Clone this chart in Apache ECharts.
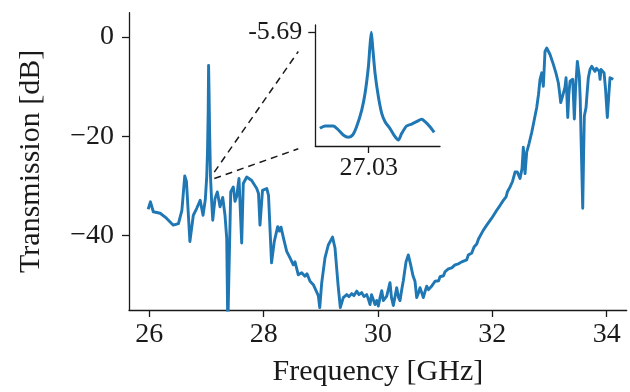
<!DOCTYPE html>
<html>
<head>
<meta charset="utf-8">
<script src="https://cdn.jsdelivr.net/npm/echarts@6/dist/echarts.min.js"></script>
<style>html,body{margin:0;padding:0;background:#fff}#c{width:630px;height:392px}</style>
</head>
<body>
<div id="c"></div>
<script>
// ---- main trace: frequency (GHz) and transmission (dB) ----
const mainFreq = [25.98,26.02,26.07,26.19,26.30,26.42,26.51,26.57,26.62,26.65,26.71,26.77,26.83,26.89,26.91,26.94,26.98,
27.005,27.018,27.03,27.037,27.045,27.055,27.07,27.09,27.11,27.15,27.19,27.237,27.284,27.324,27.354,27.373,27.39,27.424,27.469,27.499,27.529,27.569,27.592,27.616,27.644,27.704,27.791,27.879,27.91,27.936,27.98,28.054,28.085,28.138,28.186,28.246,28.277,28.304,28.347,28.403,28.461,28.519,28.549,28.606,28.666,28.723,28.759,28.811,28.869,28.898,28.956,28.981,29.016,29.073,29.131,29.205,29.248,29.301,29.341,29.393,29.453,29.493,29.54,29.58,29.628,29.668,29.715,29.755,29.803,29.834,29.861,29.887,29.919,29.948,29.978,30.006,30.036,30.066,30.093,30.123,30.153,30.18,30.21,30.236,30.268,30.298,30.327,30.36,30.385,30.415,30.443,30.49,30.53,30.572,30.612,30.647,30.677,30.71,30.735,30.765,30.793,30.822,30.852,30.884,30.91,30.945,30.968,30.998,31.027,31.06,31.085,31.115,31.146,31.172,31.202,31.23,31.26,31.29,31.32,31.347,31.377,31.408,31.464,31.496,31.552,31.58,31.64,31.68,31.727,31.758,31.814,31.843,31.902,31.93,31.989,32.019,32.077,32.105,32.136,32.192,32.24,32.266,32.31,32.353,32.397,32.437,32.484,32.519,32.542,32.572,32.601,32.641,32.689,32.729,32.776,32.808,32.834,32.864,32.892,32.921,32.951,32.979,33.009,33.067,33.114,33.154,33.175,33.196,33.219,33.242,33.271,33.289,33.305,33.319,33.338,33.359,33.406,33.42,33.434,33.455,33.487,33.521,33.537,33.551,33.581,33.595,33.609,33.639,33.656,33.679,33.709,33.738,33.766,33.796,33.822,33.854,33.87,33.884,33.901,33.913,33.954,33.98,34.011,34.032,34.058,34.088,34.116];
const mainDb = [-34.7,-33.2,-35.2,-35.5,-36.5,-37.9,-37.6,-34.9,-28.0,-29.1,-41.2,-35.9,-34.5,-32.9,-32.9,-35.9,-32.7,
-28.0,-23.0,-15.0,-5.69,-11.0,-19.0,-28.0,-33.0,-36.9,-32.5,-31.2,-34.2,-32.3,-35.9,-40.5,-58.5,-58.5,-31.2,-30.2,-33.1,-32.1,-28.5,-28.9,-41.5,-29.5,-28.2,-28.9,-30.5,-31.5,-37.9,-30.9,-30.5,-31.9,-45.5,-41.2,-38.2,-39.1,-38.3,-40.5,-43.2,-44.5,-45.9,-45.3,-47.9,-47.5,-48.2,-47.7,-49.2,-49.9,-49.5,-52.1,-54.5,-49.5,-44.5,-41.9,-40.3,-42.5,-49.9,-54.5,-52.5,-51.9,-52.3,-51.7,-52.1,-51.2,-51.9,-51.5,-52.3,-51.9,-52.9,-53.9,-51.9,-52.2,-53.9,-53.1,-54.2,-52.5,-51.1,-53.1,-53.1,-52.2,-52.5,-49.5,-52.5,-54.1,-52.3,-50.5,-52.5,-53.1,-50.9,-49.1,-45.3,-43.9,-45.9,-48.1,-49.2,-52.5,-51.5,-50.5,-51.5,-52.5,-51.3,-50.2,-50.9,-51.2,-50.1,-49.9,-49.2,-48.9,-49.1,-48.3,-47.9,-48.1,-47.3,-47.2,-46.7,-46.9,-46.5,-46.3,-45.9,-46.2,-45.7,-45.3,-44.9,-44.9,-43.9,-43.5,-42.3,-41.7,-40.7,-39.5,-38.9,-37.9,-38.2,-36.5,-36.9,-34.9,-34.9,-33.9,-32.9,-32.2,-31.1,-30.2,-29.1,-27.2,-27.2,-28.5,-26.5,-22.2,-27.5,-23.2,-21.5,-19.2,-16.9,-14.2,-11.5,-8.5,-7.2,-9.9,-2.9,-2.2,-2.5,-3.5,-5.5,-7.3,-9.2,-11.1,-13.2,-12.3,-11.9,-10.1,-8.2,-12.1,-16.2,-11.5,-8.9,-8.5,-12.5,-16.5,-10.5,-4.9,-7.9,-12.5,-19.9,-34.5,-24.5,-15.9,-14.2,-11.5,-8.2,-6.5,-5.9,-6.3,-6.9,-6.3,-5.9,-6.9,-8.5,-6.5,-6.5,-7.2,-10.5,-16.2,-12.5,-8.2,-7.9,-8.5];

// ---- inset trace around the resonance ----
const insetFreq = [26.869,26.886,26.913,26.930,26.946,26.963,26.977,26.990,27.007,27.018,27.029,27.034,27.0386,27.043,27.051,27.062,27.073,27.084,27.100,27.117,27.128,27.139,27.155,27.172,27.188,27.205,27.216,27.232,27.246];
const insetDb = [-33.28,-32.62,-32.62,-33.76,-35.2,-35.86,-35.2,-32.82,-28.02,-23.22,-15.58,-9.83,-5.69,-9.83,-17.47,-24.2,-28.97,-31.38,-33.28,-35.69,-36.64,-34.71,-32.62,-32.04,-31.38,-30.69,-31.38,-32.82,-34.43];

// ---- tick labels ----
const xTicks = [26, 28, 30, 32, 34];
const yTicks = [-40, -20, 0];
const insetXTicks = [27.03];
const insetYTicks = [-5.69];

// ---- zoom connector lines (main-axis coordinates) ----
const connUpper = [[27.137, -27.2], [28.606, -2.9]];
const connLower = [[27.137, -28.5], [28.606, -22.5]];

const zip = (a, b) => a.map((v, i) => [v, b[i]]);
const FONT = 'Liberation Serif';
const INK = '#1a1a1a';
const axisLine = { show: true, onZero: false, lineStyle: { color: INK, width: 1.3 } };
const tick = (vals) => ({ show: true, length: 7, inside: false, customValues: vals, lineStyle: { color: INK, width: 1.3 } });

const chart = echarts.init(document.getElementById('c'), null, { renderer: 'canvas' });
chart.setOption({
  animation: false,
  backgroundColor: '#fff',
  grid: [
    { left: 129, right: 3.3, top: 12.7, bottom: 79.7, containLabel: false },
    { left: 315.3, right: 190, top: 25, bottom: 246, containLabel: false }
  ],
  xAxis: [
    { type: 'value', gridIndex: 0, min: 25.645, max: 34.35,
      axisLine, axisTick: tick(xTicks), splitLine: { show: false },
      axisLabel: { customValues: xTicks, fontFamily: FONT, fontSize: 28, color: INK, margin: 11 },
      name: 'Frequency [GHz]', nameLocation: 'middle', nameGap: 47,
      nameTextStyle: { fontFamily: FONT, fontSize: 30, color: INK } },
    { type: 'value', gridIndex: 1, min: 26.8538, max: 27.2653,
      axisLine, axisTick: tick(insetXTicks), splitLine: { show: false },
      axisLabel: { customValues: insetXTicks, fontFamily: FONT, fontSize: 26, color: INK, margin: 9,
        formatter: v => v.toFixed(2) } }
  ],
  yAxis: [
    { type: 'value', gridIndex: 0, min: -55, max: 4.92,
      axisLine, axisTick: tick(yTicks), splitLine: { show: false },
      axisLabel: { customValues: yTicks, fontFamily: FONT, fontSize: 28, color: INK, margin: 15,
        formatter: v => String(v).replace('-', '\u2212') },
      name: 'Transmission [dB]', nameLocation: 'middle', nameGap: 83, nameRotate: 90,
      nameTextStyle: { fontFamily: FONT, fontSize: 30, color: INK } },
    { type: 'value', gridIndex: 1, min: -38.36, max: -3.59,
      axisLine, axisTick: tick(insetYTicks), splitLine: { show: false },
      axisLabel: { customValues: insetYTicks, fontFamily: FONT, fontSize: 26, color: INK, margin: 13,
        formatter: v => v.toFixed(2) } }
  ],
  series: [
    { type: 'line', xAxisIndex: 0, yAxisIndex: 0, data: zip(mainFreq, mainDb),
      symbol: 'none', clip: true, lineStyle: { color: '#1f77b4', width: 2.9, join: 'round' }, z: 3 },
    { type: 'line', xAxisIndex: 1, yAxisIndex: 1, data: zip(insetFreq, insetDb), smooth: 0.25,
      symbol: 'none', clip: true, lineStyle: { color: '#1f77b4', width: 3, join: 'round' }, z: 3 },
    { type: 'line', xAxisIndex: 0, yAxisIndex: 0, data: connUpper, symbol: 'none', silent: true,
      lineStyle: { color: INK, width: 1.5, type: [7, 5] }, z: 2 },
    { type: 'line', xAxisIndex: 0, yAxisIndex: 0, data: connLower, symbol: 'none', silent: true,
      lineStyle: { color: INK, width: 1.5, type: [7, 5] }, z: 2 }
  ]
});
</script>
</body>
</html>
